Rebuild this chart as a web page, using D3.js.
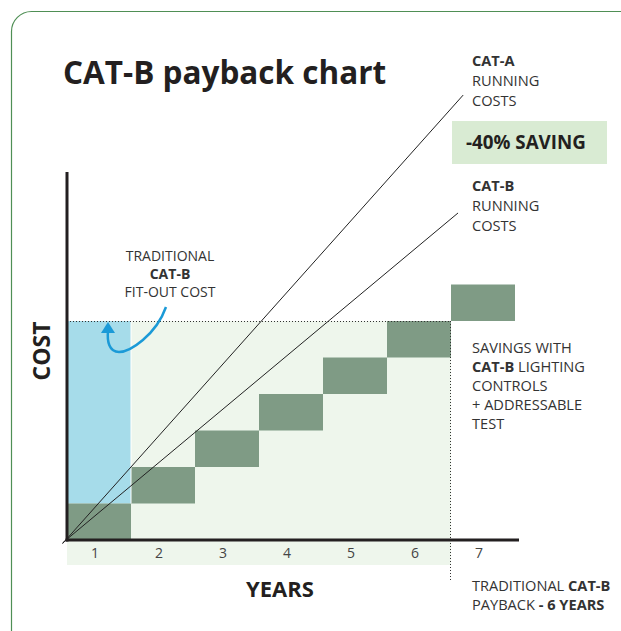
<!DOCTYPE html>
<html><head><meta charset="utf-8">
<script src="https://cdn.jsdelivr.net/npm/d3@7"></script>
<style>
html,body{margin:0;padding:0;background:#fff;}
svg{display:block;font-family:"Open Sans","Noto Sans",sans-serif;}
</style></head>
<body><svg id="c" width="621" height="631"></svg>
<script>
// ---- data ----
const years = [1, 2, 3, 4, 5, 6, 7];
const yearLabels = ["1", "2", "3", "4", "5", "6", "7"];
const savingsLow = [0, 1, 2, 3, 4, 5, 6];   // cumulative savings, bottom of each step
const savingsHigh = [1, 2, 3, 4, 5, 6, 7];  // cumulative savings, top of each step
const fitOutCost = 6;
const paybackYears = 6;
const catARunning = [[-0.07, -0.1], [6.19, 12.19]];
const catBRunning = [[-0.07, -0.08], [6.11, 8.96]];
const yAxisMax = 10.08;

const svg = d3.select("#c");
const x = d3.scaleLinear().domain([0, 7]).range([67, 515]);
const y = d3.scaleLinear().domain([0, 6]).range([540, 321]);
const xb = d3.scaleBand().domain(yearLabels).range([x(0), x(7)]);

// card border
svg.append("rect").attr("x", 11.5).attr("y", 11.5).attr("width", 640).attr("height", 660)
  .attr("rx", 20).attr("fill", "none").attr("stroke", "#4f8f55").attr("stroke-width", 1.2);

// light green area
svg.append("rect").attr("x", x(0)).attr("y", y(fitOutCost)).attr("width", x(paybackYears) - x(0))
  .attr("height", y(0) - y(fitOutCost)).attr("fill", "#eef6ec");
svg.append("rect").attr("x", x(0)).attr("y", y(0)).attr("width", x(paybackYears) - x(0))
  .attr("height", 25).attr("fill", "#eef6ec");

// blue fit-out column
svg.append("rect").attr("x", x(0)).attr("y", y(fitOutCost)).attr("width", x(1) - x(0))
  .attr("height", y(savingsHigh[0]) - y(fitOutCost)).attr("fill", "#a6dcea");

// savings steps
svg.append("g").selectAll("rect").data(years).join("rect")
  .attr("x", (d, i) => xb(yearLabels[i]))
  .attr("y", (d, i) => y(savingsHigh[i]))
  .attr("width", xb.bandwidth())
  .attr("height", (d, i) => y(savingsLow[i]) - y(savingsHigh[i]))
  .attr("fill", "#7f9b85");

// white separator between blue and step 2
svg.append("line").attr("x1", x(1)).attr("x2", x(1)).attr("y1", y(fitOutCost)).attr("y2", y(savingsHigh[0]))
  .attr("stroke", "#fff").attr("stroke-width", 1);

// dotted fit-out line & payback line
svg.append("line").attr("x1", x(0)).attr("x2", x(paybackYears)).attr("y1", y(fitOutCost) + 0.5).attr("y2", y(fitOutCost) + 0.5)
  .attr("stroke", "#333").attr("stroke-width", 1).attr("stroke-dasharray", "1,2");
svg.append("line").attr("x1", x(paybackYears) - 0.5).attr("x2", x(paybackYears) - 0.5).attr("y1", y(fitOutCost)).attr("y2", 580)
  .attr("stroke", "#333").attr("stroke-width", 1).attr("stroke-dasharray", "1,2");

// running cost lines
const line = d3.line().x(d => x(d[0])).y(d => y(d[1]));
[catARunning, catBRunning].forEach(l => {
  svg.append("path").attr("d", line(l)).attr("fill", "none").attr("stroke", "#222").attr("stroke-width", 1);
});

// axes lines
svg.append("line").attr("x1", x(0)).attr("x2", x(0)).attr("y1", y(yAxisMax)).attr("y2", y(0) + 1.5)
  .attr("stroke", "#231f20").attr("stroke-width", 3);
svg.append("line").attr("x1", x(0) - 1.5).attr("x2", x(7) + 4).attr("y1", y(0)).attr("y2", y(0))
  .attr("stroke", "#231f20").attr("stroke-width", 3);

// tick labels
const ax = svg.append("g").attr("transform", `translate(-4,${y(0) + 2})`)
  .call(d3.axisBottom(xb).tickSize(0).tickPadding(6));
ax.select(".domain").remove();
ax.selectAll("text").attr("font-size", 14).attr("fill", "#444").attr("font-family", "Open Sans");

// arrow annotation
const ax1 = x(1), fy = y(fitOutCost);
svg.append("path")
  .attr("d", `M${ax1 + 35},${fy - 14} C${ax1 + 25},${fy + 14} ${ax1 - 1},${fy + 31} ${ax1 - 12},${fy + 31} C${ax1 - 22},${fy + 31} ${ax1 - 24},${fy + 20} ${ax1 - 23},${fy + 10}`)
  .attr("fill", "none").attr("stroke", "#1b9ad7").attr("stroke-width", 2.5);
svg.append("path")
  .attr("d", `M${ax1 - 23},${fy + 1} L${ax1 - 30},${fy + 12} L${ax1 - 16},${fy + 12} Z`)
  .attr("fill", "#1b9ad7");

// texts
const txt = (xx, yy, parts, opts = {}) => {
  const t = svg.append("text").attr("x", xx).attr("y", yy)
    .attr("font-size", opts.size || 14.6).attr("fill", opts.fill || "#333")
    .attr("text-anchor", opts.anchor || "start");
  parts.forEach(p => {
    const [s, b] = Array.isArray(p) ? p : [p, false];
    t.append("tspan").text(s).attr("font-weight", b ? 700 : 400);
  });
  return t;
};

txt(63, 84, [["CAT-B payback chart", true]], { size: 31.5, fill: "#231f20" });

txt(472, 66, [["CAT-A", true]]);
txt(472, 86, ["RUNNING"]);
txt(472, 106, ["COSTS"]);

svg.append("rect").attr("x", 452).attr("y", 121).attr("width", 155).attr("height", 43).attr("fill", "#d9ebd3");
txt(466, 149, [["-40% SAVING", true]], { size: 18.8, fill: "#231f20" });

txt(472, 191, [["CAT-B", true]]);
txt(472, 211, ["RUNNING"]);
txt(472, 231, ["COSTS"]);

txt(170, 261, ["TRADITIONAL"], { anchor: "middle", size: 14 });
txt(170, 279, [["CAT-B", true]], { anchor: "middle", size: 14 });
txt(170, 297, ["FIT-OUT COST"], { anchor: "middle", size: 14 });

txt(472, 353, ["SAVINGS WITH"]);
txt(472, 372, [["CAT-B", true], " LIGHTING"]);
txt(472, 391, ["CONTROLS"]);
txt(472, 410, ["+ ADDRESSABLE"]);
txt(472, 429, ["TEST"]);

txt(472, 591, ["TRADITIONAL ", ["CAT-B", true]]);
txt(472, 610, ["PAYBACK ", ["- 6 YEARS", true]]);

txt(280, 597, [["YEARS", true]], { size: 22, anchor: "middle", fill: "#231f20" });
txt(0, 0, [["COST", true]], { size: 23, anchor: "middle", fill: "#231f20" })
  .attr("transform", "translate(50,351) rotate(-90)");
</script></body></html>
